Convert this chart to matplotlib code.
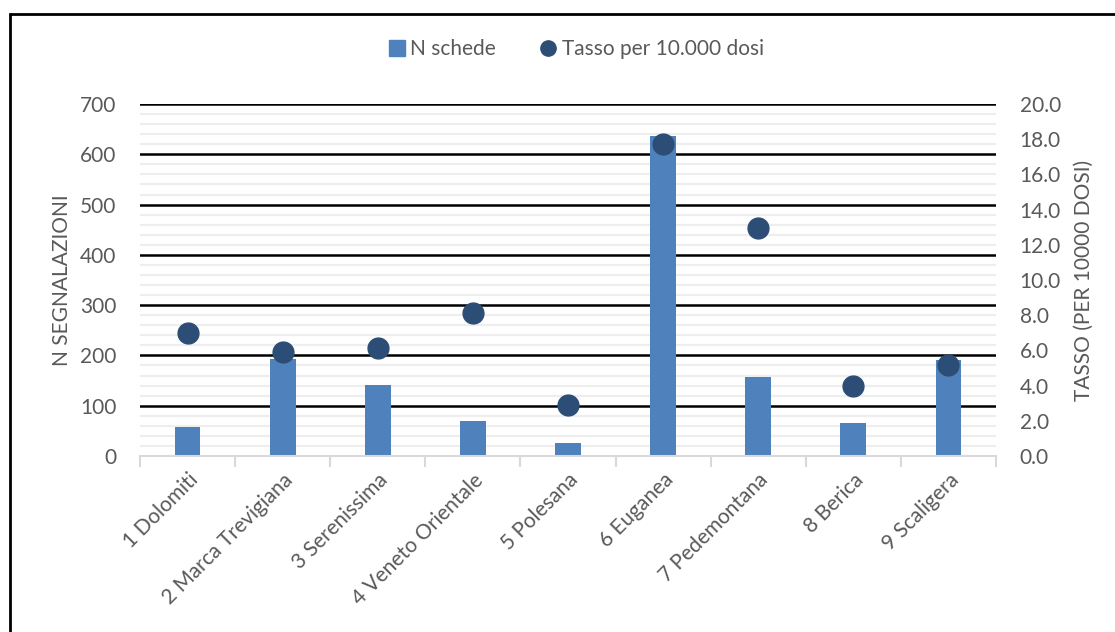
import matplotlib
matplotlib.use("Agg")
import matplotlib.pyplot as plt
from matplotlib.patches import Rectangle
from matplotlib.lines import Line2D
import numpy as np

categories = ["1 Dolomiti", "2 Marca Trevigiana", "3 Serenissima", "4 Veneto Orientale",
              "5 Polesana", "6 Euganea", "7 Pedemontana", "8 Berica", "9 Scaligera"]
n_schede = [58, 193, 142, 70, 26, 636, 158, 66, 190]
tasso = [7.0, 5.9, 6.15, 8.15, 2.9, 17.75, 12.95, 3.95, 5.15]
left_ticks = [0, 100, 200, 300, 400, 500, 600, 700]
right_ticks = [0, 2, 4, 6, 8, 10, 12, 14, 16, 18, 20]

plt.rcParams['font.family'] = ['Lato', 'DejaVu Sans']
TXT = '#595959'
BAR = '#4F81BD'
DOT = '#2C4D75'

W, H = 1115, 632
fig = plt.figure(figsize=(W/100, H/100), dpi=100)
ax = fig.add_axes([140/W, 1-456/H, (996-140)/W, (456-104)/H])
ax2 = ax.twinx()

x = np.arange(len(categories))
ax.bar(x, n_schede, width=0.27, color=BAR, zorder=3)
ax2.plot(x, tasso, 'o', color=DOT, markersize=15, zorder=4, linestyle='none')

ax.set_xlim(-0.5, len(categories)-0.5)
ax.set_ylim(0, 700)
ax2.set_ylim(0, 20)
ax.set_yticks(left_ticks)
ax.set_yticklabels([str(v) for v in left_ticks])
ax2.set_yticks(right_ticks)
ax2.set_yticklabels([f"{v:.1f}" for v in right_ticks])

# gridlines
for v in range(0, 701, 20):
    if v % 100 == 0 and v > 0:
        ax.axhline(v, color='black', lw=1.8, zorder=2)
    elif v % 100 != 0:
        ax.axhline(v, color='#EEEEEE', lw=1.6, zorder=1)

for a in (ax, ax2):
    for s in a.spines.values():
        s.set_visible(False)
ax.spines['bottom'].set_visible(True)
ax.spines['bottom'].set_color('#D9D9D9')
ax.spines['bottom'].set_linewidth(1.5)
ax.spines['bottom'].set_zorder(5)

ax.tick_params(axis='y', length=0, labelsize=15, labelcolor=TXT, pad=17)
ax2.tick_params(axis='y', length=0, labelsize=15, labelcolor=TXT, pad=17)
ax.set_xticks(x)
ax.set_xticklabels(categories, rotation=45, ha='right', rotation_mode='anchor',
                   fontsize=15, color=TXT)
ax.tick_params(axis='x', length=0, pad=10)
# category separator ticks
ax.set_xticks(np.arange(-0.5, len(categories), 1.0), minor=True)
ax.tick_params(axis='x', which='minor', length=8, color='#D9D9D9', width=1.5)

fig.text(62/W, 1-280/H, "N SEGNALAZIONI", rotation=90, ha='center', va='center',
         fontsize=15, color=TXT)
fig.text(1084/W, 1-280/H, "TASSO (PER 10000 DOSI)", rotation=90, ha='center', va='center',
         fontsize=15, color=TXT)

handles = [Line2D([], [], marker='s', color=BAR, linestyle='none', markersize=11),
           Line2D([], [], marker='o', color=DOT, linestyle='none', markersize=11)]
fig.legend(handles, ["N schede", "Tasso per 10.000 dosi"], loc='center',
           bbox_to_anchor=(574/W, 1-49/H), ncol=2, frameon=False, fontsize=15,
           labelcolor=TXT, handletextpad=0.05, columnspacing=1.9, handlelength=1.2)

fig.add_artist(Rectangle((10/W, -0.2), 1.5, 1.2-14/H, transform=fig.transFigure,
                         fill=False, edgecolor='black', lw=2))

fig.savefig("out.png", dpi=100)
